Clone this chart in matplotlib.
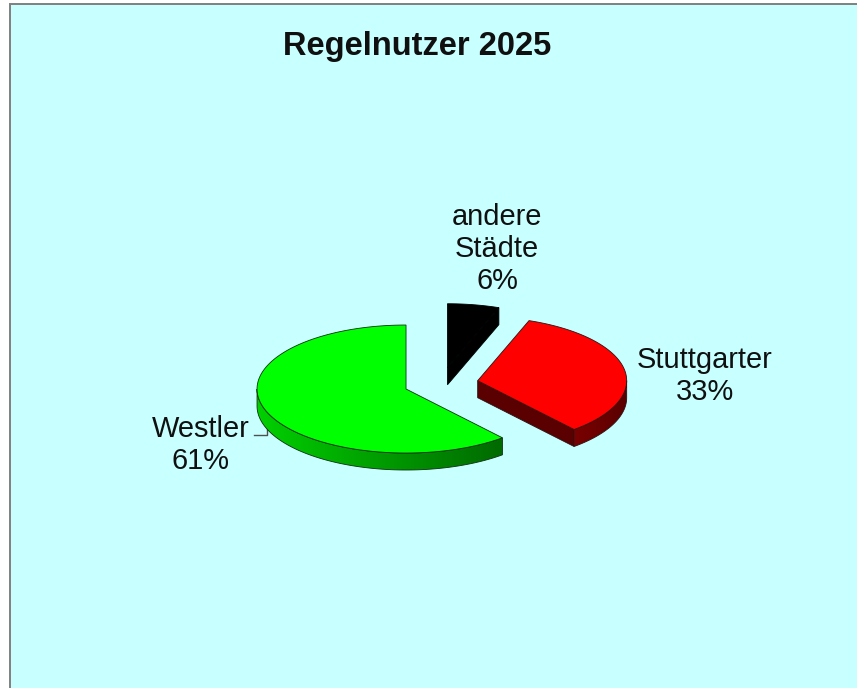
import numpy as np
import matplotlib
matplotlib.use("Agg")
import matplotlib.pyplot as plt
from matplotlib.colors import LinearSegmentedColormap
from matplotlib.patches import Polygon

plt.rcParams["font.family"] = ["Liberation Sans", "DejaVu Sans"]

title = "Regelnutzer 2025"
names = ["andere\nStädte", "Stuttgarter", "Westler"]
values = [5.6, 33.2, 61.2]

# drawing setup, in pixels of the reference
colors = ["#000000", "#ff0000", "#00ff00"]
side_left = ["#000000", "#7a0000", "#00d000"]
side_right = ["#000000", "#5a0000", "#006a00"]
edges = ["#000000", "#301010", "#103010"]
label_xy = [(497, 249), (705, 376), (201, 445)]
cx, cy = 441, 383.5
rx, ry = 149, 64
depth = 17
explode = 0.25


def point(x0, y0, deg):
    a = np.radians(deg)
    return x0 + rx * np.cos(a), y0 - ry * np.sin(a)


def gradient_fill(ax, poly, c_left, c_right, edge):
    cmap = LinearSegmentedColormap.from_list("side", [c_left, c_right])
    xs = poly[:, 0]
    grad = np.linspace(0, 1, 256).reshape(1, -1)
    im = ax.imshow(grad, cmap=cmap, aspect="auto", zorder=2,
                   extent=(xs.min(), xs.max(), poly[:, 1].max(), poly[:, 1].min()))
    patch = Polygon(poly, closed=True, fc="none", ec=edge, lw=0.6, zorder=2.1)
    ax.add_patch(patch)
    im.set_clip_path(patch)


fig = plt.figure(figsize=(8.57, 6.88), dpi=100)
ax = fig.add_axes([0, 0, 1, 1])
ax.axis("off")
fig.patch.set_facecolor("white")

bg = Polygon([(10, 4), (858, 4), (858, 689), (10, 689)], closed=True,
             fc="#c8ffff", ec="#808080", lw=1.4, zorder=0)
ax.add_patch(bg)

# slices run clockwise from 12 o'clock
start = 90.0
for i, v in enumerate(values):
    sweep = v / sum(values) * 360
    a1 = start
    a0 = start - sweep
    start = a0
    mid = np.radians((a0 + a1) / 2)
    x0 = cx + explode * rx * np.cos(mid)
    y0 = cy - explode * ry * np.sin(mid)

    # cut faces that look towards the viewer
    for edge, seen in [(a0, np.cos(np.radians(a0)) > 1e-6), (a1, np.cos(np.radians(a1)) < -1e-6)]:
        if seen:
            ex, ey = point(x0, y0, edge)
            face = [(x0, y0), (ex, ey), (ex, ey + depth), (x0, y0 + depth)]
            ax.add_patch(Polygon(face, closed=True, fc=side_right[i], ec=edges[i], lw=0.6, zorder=1.5))

    # outer rim, lower half of the ellipse only
    low = max(a0, -180) if a0 > -180 else -180
    rim = np.linspace(low, min(a1, 0), 120)
    if a1 > 0 and a0 < 0 or a1 <= 0:
        tx, ty = point(x0, y0, rim)
        poly = np.vstack([np.column_stack([tx, ty]),
                          np.column_stack([tx[::-1], ty[::-1] + depth])])
        gradient_fill(ax, poly, side_left[i], side_right[i], edges[i])

    # top surface
    arc = np.linspace(a0, a1, 200)
    tx, ty = point(x0, y0, arc)
    top = np.vstack([[x0, y0], np.column_stack([tx, ty])])
    ax.add_patch(Polygon(top, closed=True, fc=colors[i], ec=edges[i], lw=0.6, zorder=3))

    lx, ly = label_xy[i]
    ax.text(lx, ly, f"{names[i]}\n{round(v)}%", ha="center", va="center", fontsize=20.9,
            color="#101010", linespacing=1.2, zorder=5)

# leader of the Westler label
ax.plot([254, 267, 267], [435, 435, 428], color="#505050", lw=1, zorder=1)

ax.text(417, 46, title, ha="center", va="center", fontsize=23.5, fontweight="bold", color="#101010", zorder=5)

ax.set_xlim(0, 857)
ax.set_ylim(688, 0)
fig.savefig("out.png", dpi=100)
